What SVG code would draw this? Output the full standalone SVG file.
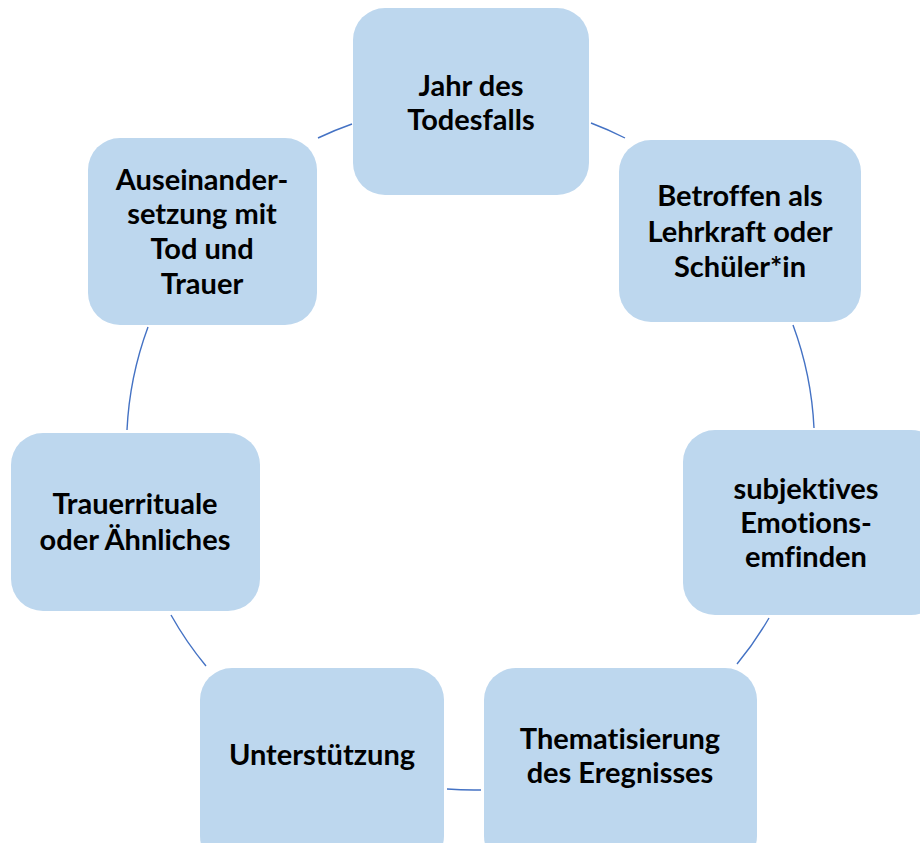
<svg xmlns="http://www.w3.org/2000/svg" width="920" height="843" viewBox="0 0 920 843">
<style>
.n{fill:#BDD7EE;}
.t{font-family:Lato,"Liberation Sans",sans-serif;font-weight:bold;font-size:29px;fill:#000;text-anchor:middle;font-variant-ligatures:none;}
.c{fill:none;stroke:#4472C4;stroke-width:1.4;}
</style>
<rect width="920" height="843" fill="#fff"/>
<g id="connectors">
<path class="c" d="M591,123 A344,344 0 0 1 625,138"/>
<path class="c" d="M793,325 A344,344 0 0 1 814,428"/>
<path class="c" d="M769,618 A344,344 0 0 1 737,664"/>
<path class="c" d="M481,790 A344,344 0 0 1 447,789"/>
<path class="c" d="M206,666 A344,344 0 0 1 171,615"/>
<path class="c" d="M127,430 A344,344 0 0 1 148,327"/>
<path class="c" d="M318,138 A344,344 0 0 1 352,124"/>
</g>
<g id="n1"><rect class="n" x="353" y="8" width="236" height="187" rx="32"/>
<text class="t" x="471" y="96">Jahr des</text><text class="t" x="471" y="130">Todesfalls</text></g>
<g id="n2"><rect class="n" x="619" y="140" width="242" height="182" rx="32"/>
<text class="t" x="740" y="206">Betroffen als</text><text class="t" x="740" y="242">Lehrkraft oder</text><text class="t" x="740" y="277">Schüler*in</text></g>
<g id="n3"><rect class="n" x="683" y="430" width="260" height="185" rx="32"/>
<text class="t" x="806" y="499">subjektives</text><text class="t" x="806" y="533">Emotions-</text><text class="t" x="806" y="567">emfinden</text></g>
<g id="n4"><rect class="n" x="484" y="668" width="273" height="200" rx="32"/>
<text class="t" x="620" y="749">Thematisierung</text><text class="t" x="620" y="783">des Eregnisses</text></g>
<g id="n5"><rect class="n" x="200" y="668" width="244" height="200" rx="32"/>
<text class="t" x="322" y="765">Unterstützung</text></g>
<g id="n6"><rect class="n" x="11" y="433" width="249" height="178" rx="32"/>
<text class="t" x="135" y="514">Trauerrituale</text><text class="t" x="135" y="550">oder Ähnliches</text></g>
<g id="n7"><rect class="n" x="88" y="138" width="229" height="187" rx="32"/>
<text class="t" x="202" y="190">Auseinander-</text><text class="t" x="202" y="224">setzung mit</text><text class="t" x="202" y="259">Tod und</text><text class="t" x="202" y="294">Trauer</text></g>
</svg>
